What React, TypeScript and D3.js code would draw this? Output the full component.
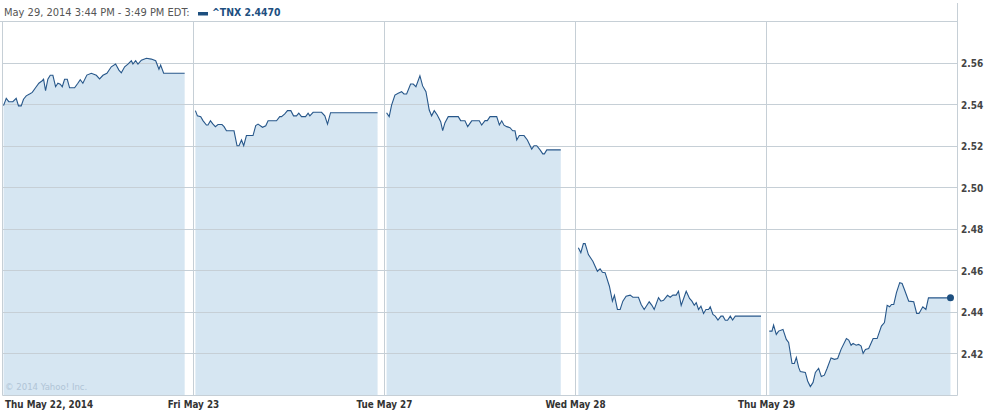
import * as d3 from 'd3';

const headerText = 'May 29, 2014 3:44 PM - 3:49 PM EDT:';
const symbol = '^TNX';
const lastValue = 2.447;
const copyright = '\u00a9 2014 Yahoo! Inc.';

const dayLabels = ['Thu May 22, 2014', 'Fri May 23', 'Tue May 27', 'Wed May 28', 'Thu May 29'];
const dayStarts = [0, 24, 48, 72, 96];
const yTicks = [2.42, 2.44, 2.46, 2.48, 2.5, 2.52, 2.54, 2.56];

// [hours since start of the 5-day window, yield]
const may22: [number, number][] = [
  [0.13, 2.5395], [0.47, 2.543], [0.79, 2.5414], [1.3, 2.5414], [1.72, 2.543], [2.01, 2.5394],
  [2.35, 2.5394], [2.64, 2.5426], [2.98, 2.5442], [3.4, 2.5451], [3.74, 2.5459], [4.15, 2.5481],
  [4.57, 2.5503], [4.99, 2.5515], [5.16, 2.5522], [5.41, 2.5467], [5.7, 2.5522], [6.0, 2.5541],
  [6.33, 2.5541], [6.67, 2.5486], [6.96, 2.5503], [7.26, 2.5498], [7.51, 2.5486], [7.8, 2.5522],
  [8.14, 2.5522], [8.43, 2.5481], [9.06, 2.5481], [9.47, 2.5503], [9.77, 2.552], [10.1, 2.5503],
  [10.6, 2.5542], [11.16, 2.5551], [11.79, 2.5541], [12.2, 2.5524], [12.62, 2.5541], [13.12, 2.5551],
  [13.67, 2.5582], [14.21, 2.5595], [14.63, 2.5566], [14.93, 2.5553], [15.35, 2.5582], [15.76, 2.5595],
  [16.19, 2.5611], [16.39, 2.5595], [16.73, 2.5611], [17.02, 2.5595], [17.45, 2.5614], [18.08, 2.5623],
  [18.7, 2.5619], [19.25, 2.5611], [19.66, 2.557], [19.87, 2.559], [20.25, 2.5551], [22.89, 2.5551],
];

const may23: [number, number][] = [
  [24.24, 2.5371], [24.49, 2.5346], [24.91, 2.5342], [25.19, 2.5323], [25.62, 2.5302], [25.82, 2.5302],
  [26.13, 2.5322], [26.45, 2.5306], [26.75, 2.5294], [27.08, 2.5304], [27.58, 2.5304], [27.84, 2.5294],
  [28.14, 2.5274], [29.09, 2.5274], [29.47, 2.5202], [29.72, 2.5202], [30.03, 2.523], [30.31, 2.5202],
  [30.65, 2.5251], [31.48, 2.5251], [31.82, 2.5299], [32.11, 2.5306], [32.67, 2.5291], [33.08, 2.5298],
  [33.37, 2.5322], [34.43, 2.5322], [34.84, 2.5342], [35.06, 2.5342], [35.47, 2.5355], [35.81, 2.5371],
  [36.23, 2.5371], [36.57, 2.5346], [36.94, 2.5346], [37.23, 2.5359], [37.57, 2.5342], [38.08, 2.5342],
  [38.4, 2.5359], [38.62, 2.5346], [39.03, 2.5363], [40.09, 2.5363], [40.5, 2.5346], [40.84, 2.5306],
  [41.22, 2.5361], [47.13, 2.5361],
];

const may27: [number, number][] = [
  [48.26, 2.5361], [48.59, 2.5342], [48.89, 2.5398], [49.31, 2.5446], [49.72, 2.5455], [50.15, 2.5462],
  [50.44, 2.5451], [50.78, 2.5451], [51.28, 2.5499], [51.61, 2.5499], [51.95, 2.5486], [52.45, 2.5539],
  [52.79, 2.549], [53.21, 2.5462], [53.62, 2.5374], [53.92, 2.5346], [54.25, 2.5371], [54.63, 2.535],
  [55.06, 2.5318], [55.31, 2.5275], [55.6, 2.5313], [56.01, 2.5342], [57.27, 2.5342], [57.57, 2.5323],
  [58.11, 2.5322], [58.45, 2.5294], [58.96, 2.5322], [59.91, 2.5322], [60.21, 2.5302], [60.63, 2.5323],
  [60.92, 2.5323], [61.26, 2.5342], [62.1, 2.5342], [62.43, 2.5302], [62.73, 2.5322], [63.02, 2.5301],
  [63.36, 2.5294], [63.77, 2.5289], [64.11, 2.5274], [64.4, 2.5274], [64.62, 2.523], [64.94, 2.5251],
  [65.53, 2.5251], [65.95, 2.523], [66.5, 2.5186], [66.79, 2.5202], [67.13, 2.5202], [67.55, 2.5182],
  [67.89, 2.5163], [68.09, 2.5163], [68.39, 2.5182], [70.15, 2.5182],
];

const may28: [number, number][] = [
  [72.36, 2.4711], [72.67, 2.4687], [72.99, 2.4731], [73.21, 2.4731], [73.62, 2.4678], [74.18, 2.4646],
  [74.75, 2.4598], [75.09, 2.461], [75.38, 2.4593], [75.72, 2.4591], [76.26, 2.4526], [76.64, 2.4454],
  [76.89, 2.4482], [77.27, 2.4414], [77.61, 2.4414], [77.95, 2.4454], [78.36, 2.4478], [78.87, 2.4483],
  [79.21, 2.4473], [79.91, 2.4473], [80.25, 2.4438], [80.63, 2.4414], [81.26, 2.4451], [81.6, 2.4434],
  [81.89, 2.4414], [82.43, 2.4471], [82.73, 2.4454], [83.06, 2.4458], [83.56, 2.4482], [83.9, 2.4473],
  [84.24, 2.4483], [84.65, 2.4483], [84.94, 2.4502], [85.28, 2.4434], [85.91, 2.4502], [86.33, 2.4467],
  [86.63, 2.4454], [86.92, 2.4434], [87.17, 2.4447], [87.46, 2.4414], [87.76, 2.443], [88.09, 2.4395],
  [88.39, 2.4414], [88.72, 2.4414], [88.93, 2.4427], [89.27, 2.439], [89.56, 2.4382], [89.9, 2.4363],
  [90.28, 2.4382], [90.53, 2.4382], [90.82, 2.4362], [91.11, 2.4362], [91.45, 2.4382], [91.74, 2.4363],
  [92.08, 2.4382], [95.31, 2.4382],
];

const may29: [number, number][] = [
  [96.35, 2.431], [96.69, 2.431], [96.89, 2.4339], [97.23, 2.4294], [97.52, 2.431], [98.07, 2.4318],
  [98.49, 2.427], [98.78, 2.4255], [99.21, 2.4154], [99.5, 2.4154], [99.75, 2.4183], [100.04, 2.4135],
  [100.25, 2.4115], [100.88, 2.4111], [101.17, 2.407], [101.51, 2.4043], [101.85, 2.4063], [102.14, 2.4111],
  [102.55, 2.4131], [102.89, 2.4091], [103.27, 2.4098], [103.61, 2.413], [104.11, 2.4181], [104.53, 2.4174],
  [104.94, 2.4178], [105.37, 2.4222], [106.04, 2.4274], [106.33, 2.4267], [106.63, 2.4242], [106.88, 2.4251],
  [107.26, 2.4242], [107.58, 2.4246], [107.89, 2.4238], [108.14, 2.4203], [108.43, 2.4222], [108.84, 2.4226],
  [109.4, 2.4274], [109.9, 2.4274], [110.44, 2.4334], [110.82, 2.4351], [111.16, 2.4434], [111.48, 2.4427],
  [111.7, 2.4438], [111.99, 2.4438], [112.33, 2.4495], [112.74, 2.4543], [113.04, 2.4539], [113.33, 2.451],
  [113.87, 2.4454], [114.5, 2.4451], [114.87, 2.4395], [115.16, 2.4395], [115.64, 2.4427], [116.03, 2.4414],
  [116.35, 2.447], [119.12, 2.447],
];

const days = [may22, may23, may27, may28, may29];

const FONT = '"DejaVu Sans Condensed", "DejaVu Sans", Tahoma, sans-serif';

export default function App() {
  const width = 988;
  const height = 412;
  const plot = { left: 2.5, right: 957.5, top: 21.5, bottom: 395.5 };

  const x = d3.scaleLinear().domain([0, 120]).range([plot.left, plot.right]);
  const y = d3.scaleLinear().domain([2.4, 2.58]).range([plot.bottom, plot.top]);
  const snap = (v: number) => Math.round(v - 0.5) + 0.5;

  const area = d3
    .area<[number, number]>()
    .x((d) => x(d[0]))
    .y0(plot.bottom)
    .y1((d) => y(d[1]));

  const line = d3
    .line<[number, number]>()
    .x((d) => x(d[0]))
    .y((d) => y(d[1]));

  const last = may29[may29.length - 1];
  const grid = '#c6cfd6';

  return (
    <div style={{ position: 'fixed', left: 0, top: 0 }}>
      <svg width={width} height={height} style={{ display: 'block', background: '#fff' }} fontFamily={FONT}>
        {/* header */}
        <text x={4} y={16} fontSize={11} fill="#555">
          {headerText}
        </text>
        <rect x={198} y={12} width={10} height={3.5} fill="#1d4f7f" />
        <text x={212} y={16} fontSize={10.4} fontWeight="bold" fill="#1d4f7f">
          {`${symbol} ${lastValue.toFixed(4)}`}
        </text>

        {/* fills */}
        {days.map((d, i) => (
          <path key={`a${i}`} d={area(d) ?? ''} fill="#d6e6f2" />
        ))}

        {/* grid */}
        <line x1={0} x2={plot.right} y1={plot.top} y2={plot.top} stroke={grid} />
        <line x1={plot.right} x2={plot.right} y1={3} y2={plot.bottom} stroke={grid} />
        {yTicks.map((t) => (
          <line key={`g${t}`} x1={plot.left} x2={plot.right} y1={snap(y(t))} y2={snap(y(t))} stroke={grid} />
        ))}
        {dayStarts.map((h) => (
          <line key={`v${h}`} x1={snap(x(h))} x2={snap(x(h))} y1={plot.top} y2={plot.bottom} stroke={grid} />
        ))}
        <line x1={plot.left} x2={plot.right} y1={plot.bottom} y2={plot.bottom} stroke={grid} />

        {/* lines */}
        {days.map((d, i) => (
          <path key={`l${i}`} d={line(d) ?? ''} fill="none" stroke="#27578a" strokeWidth={1.1} />
        ))}
        <circle cx={x(last[0])} cy={y(last[1])} r={3.5} fill="#1d4f7f" />

        <text x={5} y={390} fontSize={9.5} fill="#b0c4d6">
          {copyright}
        </text>

        {/* y axis labels */}
        {yTicks.map((t) => (
          <text key={`yl${t}`} x={961} y={y(t) + 4} fontSize={10} fontWeight="bold" fill="#444">
            {t.toFixed(2)}
          </text>
        ))}

        {/* x axis labels */}
        {dayLabels.map((lbl, i) => (
          <text
            key={lbl}
            x={i === 0 ? 5 : x(dayStarts[i])}
            y={408}
            fontSize={9.8}
            fontWeight="bold"
            fill="#333"
            textAnchor={i === 0 ? 'start' : 'middle'}
          >
            {lbl}
          </text>
        ))}
      </svg>
    </div>
  );
}
